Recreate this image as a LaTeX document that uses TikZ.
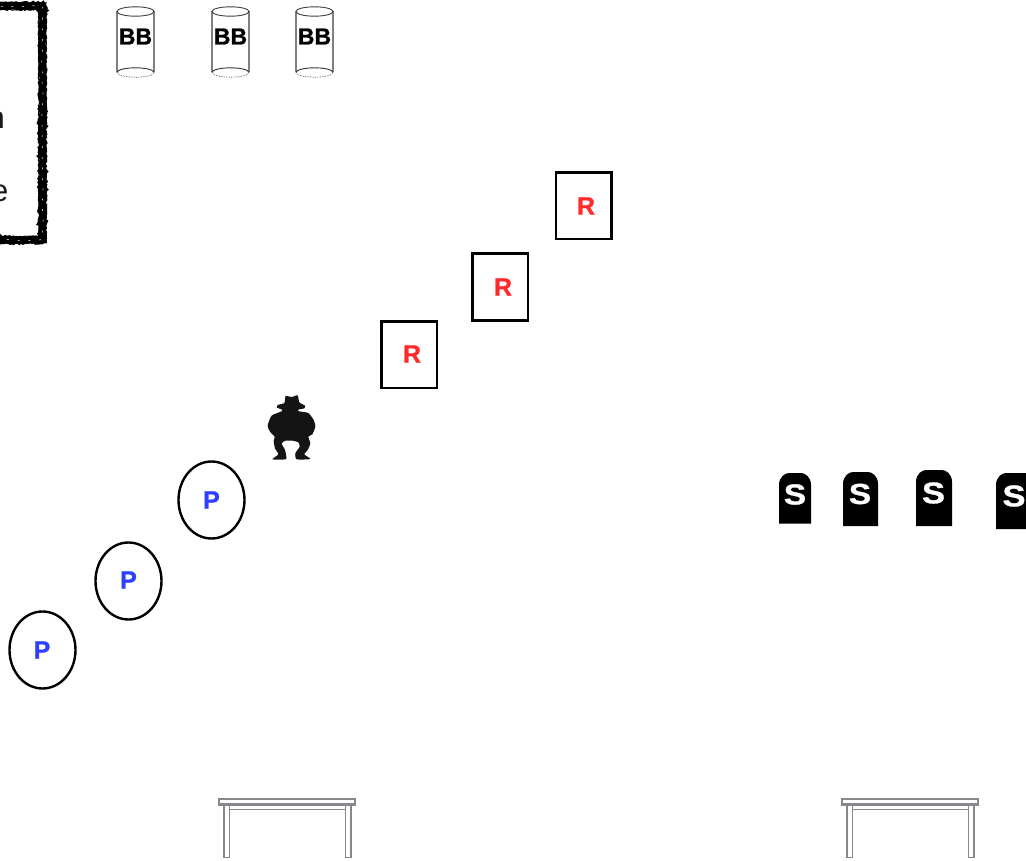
\documentclass[tikz,border=0pt]{standalone}
\usepackage{fontspec}
\setmainfont{Liberation Sans}[BoldFeatures={FakeBold=1}]
\usetikzlibrary{decorations.pathmorphing,shapes.geometric}
\definecolor{tablegray}{HTML}{85888D}
\definecolor{redtxt}{HTML}{FF2A2A}
\definecolor{bluetxt}{HTML}{2E40FF}
\tikzset{
  lab/.style={inner sep=0pt,font=\fontsize{#1}{#1}\selectfont\bfseries},
  rbox/.style={draw=black,line width=2.5pt,minimum width=55.5pt,minimum height=66.5pt,inner sep=0pt},
  pell/.style={draw=black,line width=2.4pt,ellipse,minimum width=66pt,minimum height=77pt,inner sep=0pt},
  cyl/.style={draw=black!50,line width=1.1pt},
  cyltop/.style={draw=black!75,line width=0.9pt,fill=white},
  tbl/.style={draw=tablegray,line width=1.9pt,fill=white},
  sketchy/.style={draw=black,line width=#1,decorate,decoration={random steps,segment length=1.6pt,amplitude=0.9pt}},
  scratch/.style={draw=white,line width=0.5pt,decorate,decoration={random steps,segment length=2.4pt,amplitude=0.8pt},dash pattern=on 2pt off 9pt}
}
\newcommand{\barrel}[2]{%
  \draw[cyl] (#1,11.5) -- (#1,72.5) (#1+37,11.5) -- (#1+37,72.5);
  \draw[cyltop] (#1+18.5,11.5) ellipse (18.5pt and 4.7pt);
  \draw[black!80,line width=0.9pt] (#1,72.5) arc[start angle=180,end angle=360,x radius=18.5pt,y radius=-4.7pt];
  \draw[black!70,line width=0.7pt,densely dotted] (#1,72.5) arc[start angle=180,end angle=0,x radius=18.5pt,y radius=-4.7pt];
  \node[lab=23] (#2) at (#1+18.5,36.5) {BB};
}
\newcommand{\stone}[4]{% left right top bottom
  \fill[black] (#1,#4) -- (#1,#3+12) .. controls (#1,#3+4) and (#1+6,#3) .. (#1+10,#3)
    -- (#2-10,#3) .. controls (#2-6,#3) and (#2,#3+4) .. (#2,#3+12) -- (#2,#4) -- cycle;
}
\newcommand{\bench}[1]{%
  \begin{scope}[xshift=#1pt]
    \draw[tbl] (224,804) rectangle (229.5,857.5);
    \draw[tbl] (345.5,804) rectangle (351,857.5);
    \draw[tbl] (229.5,804.5) rectangle (345.5,809.5);
    \draw[tbl,line width=2.4pt] (219,799) rectangle (355,804.5);
  \end{scope}
}
\begin{document}
\begin{tikzpicture}[x=1pt,y=-1pt]
\useasboundingbox (0,0) rectangle (1026,861);
\clip (0,0) rectangle (1026,861);
\path[fill=white] (0,0) rectangle (1026,861);
% framed box
\pgfmathsetseed{7}
\draw[sketchy=7.5pt] (-10,6) -- (42.5,6) -- (42.5,240) -- (-10,240);
\draw[sketchy=1pt] (-10,2.8) -- (46,2.8) -- (46,243) -- (-10,243);
\draw[sketchy=1pt] (-10,9.5) -- (38.8,9.5) -- (38.8,236.5) -- (-10,236.5);
\draw[scratch] (-10,6) -- (42.5,6) -- (42.5,240) -- (-10,240);
\node[anchor=base east,inner sep=0pt,font=\fontsize{31}{31}\selectfont,text=black!90] (tn) at (5,129) {n};
\node[anchor=base east,inner sep=0pt,font=\fontsize{31}{31}\selectfont,text=black!90] (te) at (8.5,202) {e};
% barrels
\barrel{117}{b1}
\barrel{212}{b2}
\barrel{296}{b3}
% R boxes
\node[rbox] (r1box) at (583.5,206) {};
\node[rbox] (r2box) at (500.3,287) {};
\node[rbox] (r3box) at (409.3,354.8) {};
\node[lab=25,text=redtxt] (r1) at (586,206) {R};
\node[lab=25,text=redtxt] (r2) at (503,287) {R};
\node[lab=25,text=redtxt] (r3) at (412,354) {R};
% P ellipses
\node[pell] (p1e) at (211.5,500) {};
\node[pell] (p2e) at (128.5,581) {};
\node[pell] (p3e) at (42.5,650) {};
\node[lab=25,text=bluetxt] (p1) at (211.5,500) {P};
\node[lab=25,text=bluetxt] (p2) at (128.5,580) {P};
\node[lab=25,text=bluetxt] (p3) at (42,650) {P};
% figure
\begin{scope}[shift={(255,385)},x=0.3333pt,y=-0.3333pt]
\fill[black!92] plot[smooth cycle,tension=0.35] coordinates {
 (92,33) (110,36) (128,31) (133,52) (150,62) (148,70) (130,74) (132,79) (160,84) (176,105) (181,125) (172,148) (160,155)
 (166,175) (158,195) (148,208) (166,222) (125,223) (121,205) (134,185) (130,172) (112,167) (92,167) (80,175) (90,195) (94,214) (92,223)
 (52,223) (70,208) (60,190) (56,168) (59,155) (45,140) (38,122) (50,92) (80,79) (80,73) (66,68) (68,60) (88,54)};
\end{scope}
% stones
\stone{779}{811}{473}{523.5}
\stone{843}{878}{472}{526}
\stone{916}{952}{470}{526}
\stone{996}{1040}{473}{529}
\node[lab=29,text=white,xscale=1.15] (s1) at (795,494.5) {S};
\node[lab=29,text=white,xscale=1.15] (s2) at (860,494) {S};
\node[lab=30,text=white,xscale=1.15] (s3) at (933.5,493) {S};
\node[lab=30,text=white,xscale=1.15] (s4) at (1014,496) {S};
% tables
\bench{0}
\bench{623}
\end{tikzpicture}
\end{document}
